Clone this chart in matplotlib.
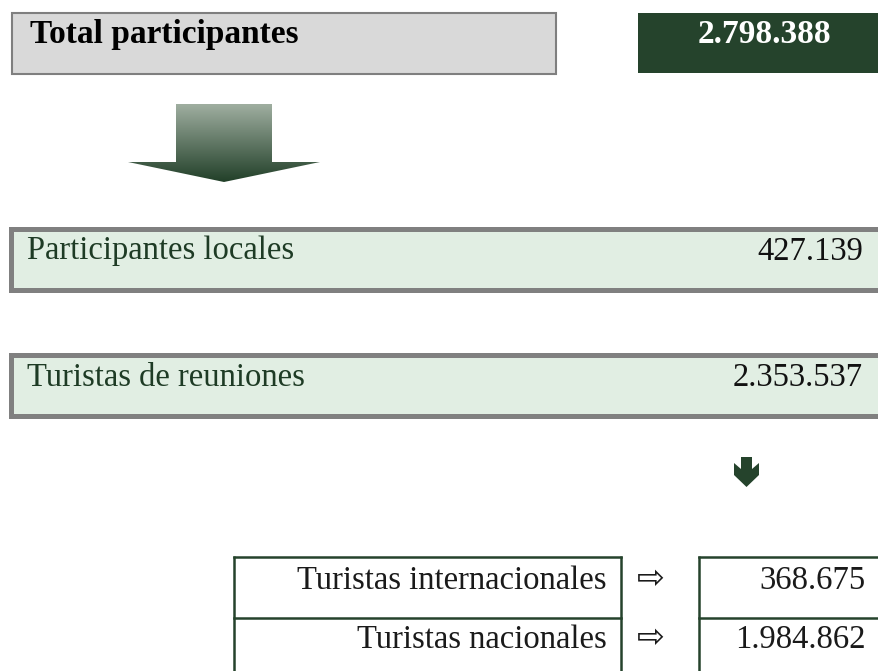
import matplotlib.pyplot as plt
import matplotlib.patches as patches
import numpy as np

# data
total_label = "Total participantes"
total_value = 2798388
group_labels = ["Participantes locales", "Turistas de reuniones"]
group_values = [427139, 2353537]
sub_labels = ["Turistas internacionales", "Turistas nacionales"]
sub_values = [368675, 1984862]


def fmt(v):
    return f"{v:,}".replace(",", ".")


dark_green = "#25432c"
serif = "Liberation Serif"

fig = plt.figure(figsize=(8.79, 6.71), dpi=100)
ax = fig.add_axes([0, 0, 1, 1])
ax.set_xlim(0, 879)
ax.set_ylim(671, 0)
ax.axis("off")

# header boxes
ax.add_patch(patches.Rectangle((12, 13), 544, 61, facecolor="#d9d9d9",
                               edgecolor="#7f7f7f", linewidth=1.5))
ax.text(30, 43, total_label, fontsize=24, fontweight="bold", family=serif,
        color="black", va="baseline", ha="left")
ax.add_patch(patches.Rectangle((638, 13), 260, 60, facecolor=dark_green,
                               edgecolor="none"))
ax.text(764, 43, fmt(total_value), fontsize=24, fontweight="bold", family=serif,
        color="white", va="baseline", ha="center")

# big gradient arrow
arrow_pts = [(176, 104), (272, 104), (272, 162), (320, 162), (224, 182),
             (128, 162), (176, 162)]
arrow = patches.Polygon(arrow_pts, closed=True, facecolor="none", edgecolor="none")
ax.add_patch(arrow)
top_c = np.array([0x9f, 0xae, 0xa0]) / 255
bot_c = np.array([0x22, 0x40, 0x29]) / 255
t = np.linspace(0, 1, 100)[:, None]
grad = top_c[None, :] * (1 - t) + bot_c[None, :] * t
grad = np.repeat(grad[:, None, :], 2, axis=1)
im = ax.imshow(grad, extent=(128, 320, 182, 104), aspect="auto", zorder=2)
im.set_clip_path(arrow)
ax.set_xlim(0, 879)
ax.set_ylim(671, 0)

# group boxes
box_tops = [228.5, 354.5]
for i in range(len(group_labels)):
    y0 = box_tops[i]
    ax.add_patch(patches.Rectangle((11.5, y0), 880, 61.5, facecolor="#e1eee3",
                                   edgecolor="#808080", linewidth=3.6))
    ax.text(27, y0 + 31, group_labels[i], fontsize=23.5, family=serif,
            color="#1e3b25", va="baseline", ha="left")
    ax.text(863, y0 + 32, fmt(group_values[i]), fontsize=23.5, family=serif,
            color="#111111", va="baseline", ha="right")

# small arrow
small = [(741, 457), (752, 457), (752, 469), (759, 463), (759, 475), (746.5, 487),
         (734, 475), (734, 463), (741, 469)]
ax.add_patch(patches.Polygon(small, closed=True, facecolor=dark_green,
                             edgecolor="none"))

# table
lw = 1.8
for x in [234, 621, 699]:
    ax.plot([x, x], [556, 671], color=dark_green, lw=lw, solid_capstyle="butt")
for y in [557, 618]:
    ax.plot([234, 621], [y, y], color=dark_green, lw=lw)
    ax.plot([699, 879], [y, y], color=dark_green, lw=lw)

row_base = [589, 648]
for i in range(len(sub_labels)):
    ax.text(607, row_base[i], sub_labels[i], fontsize=23.5, family=serif,
            color="#1a1a1a", va="baseline", ha="right")
    ax.text(651, row_base[i] - 11, "\u21e8", fontsize=24, family="DejaVu Sans",
            color="#1a1a1a", va="center", ha="center")
    ax.text(866, row_base[i], fmt(sub_values[i]), fontsize=23.5, family=serif,
            color="#1a1a1a", va="baseline", ha="right")

fig.savefig("out.png", dpi=100)
